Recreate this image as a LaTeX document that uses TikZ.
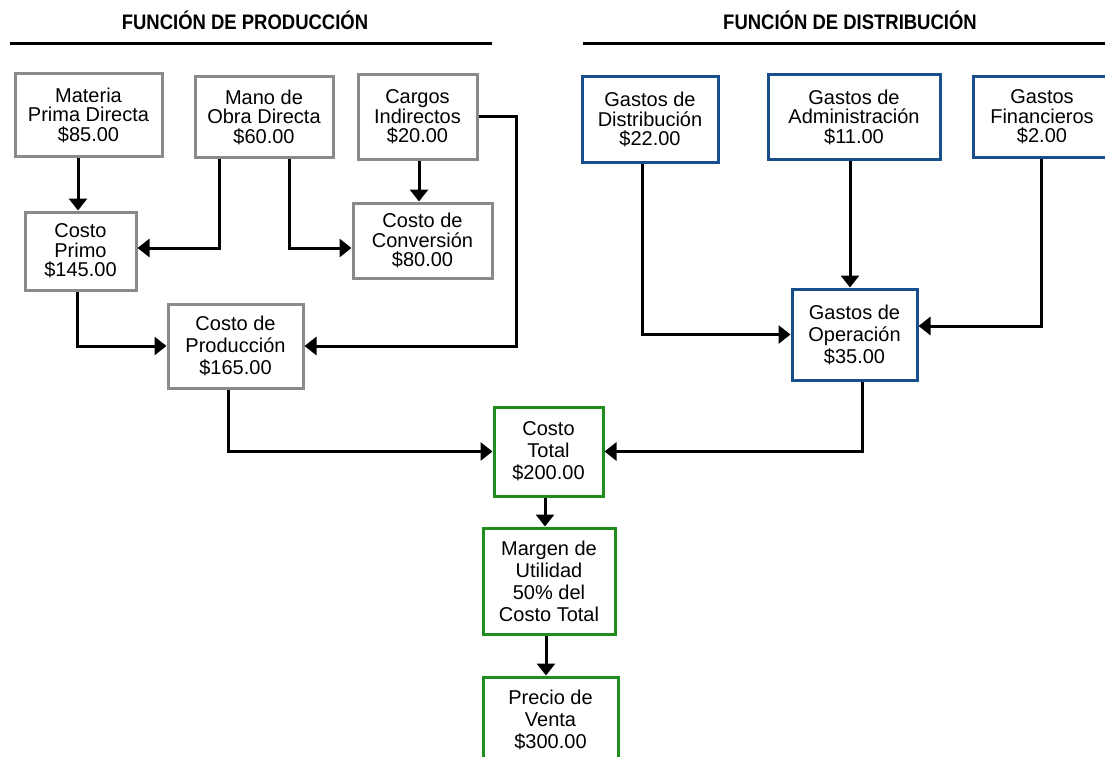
\documentclass[tikz,border=0pt]{standalone}
\usepackage{fontspec}
\setmainfont{Liberation Sans}
\newfontfamily\headfont[FakeStretch=0.88]{Liberation Sans}
\usetikzlibrary{arrows.meta}

\definecolor{boxgray}{RGB}{138,138,138}
\definecolor{boxblue}{RGB}{24,78,140}
\definecolor{boxgreen}{RGB}{30,140,30}

\tikzset{
  box/.style={draw, line width=3pt, fill=white, align=center, inner sep=0pt,
    font=\fontsize{20}{19.5}\selectfont},
  prodbox/.style={box, draw=boxgray},
  distbox/.style={box, draw=boxblue},
  totbox/.style={box, draw=boxgreen},
  loose/.style={font=\fontsize{20}{22}\selectfont},
  link/.style={line width=3pt, -{Triangle[length=12pt,width=18pt]}},
  rule/.style={line width=3pt},
  head/.style={font=\headfont\bfseries\fontsize{21}{21}\selectfont, anchor=base, inner sep=0pt}
}

\begin{document}
\begin{tikzpicture}[x=1pt, y=-1pt]
  \useasboundingbox[fill=white] (0,0) rectangle (1105,757);
  \clip (0,0) rectangle (1105,757);

  % section headings
  \node[head] (hprod) at (245,30) {FUNCIÓN DE PRODUCCIÓN};
  \node[head] (hdist) at (850,30) {FUNCIÓN DE DISTRIBUCIÓN};
  \draw[rule] (10,44) -- (492,44);
  \draw[rule] (583,44) -- (1110,44);

  % production side
  \node[prodbox, minimum width=147, minimum height=82] (mat) at (88.5,115) {Materia\\Prima Directa\\\$85.00};
  \node[prodbox, minimum width=138, minimum height=80] (mano) at (264,117) {Mano de\\Obra Directa\\\$60.00};
  \node[prodbox, minimum width=119, minimum height=84] (carg) at (417.5,117) {Cargos\\Indirectos\\\$20.00};
  \node[prodbox, minimum width=111, minimum height=78] (primo) at (80.5,251) {Costo\\Primo\\\$145.00};
  \node[prodbox, minimum width=139, minimum height=75] (conv) at (422.5,240.5) {Costo de\\Conversión\\\$80.00};
  \node[prodbox, loose, minimum width=135, minimum height=84] (prod) at (235.5,346) {Costo de\\Producción\\\$165.00};

  % distribution side
  \node[distbox, minimum width=136, minimum height=85] (dist) at (650,119.5) {Gastos de\\Distribución\\\$22.00};
  \node[distbox, minimum width=172, minimum height=84] (adm) at (854,117) {Gastos de\\Administración\\\$11.00};
  \node[distbox, minimum width=138, minimum height=80] (fin) at (1042,117) {Gastos\\Financieros\\\$2.00};
  \node[distbox, loose, minimum width=125, minimum height=91] (oper) at (854.5,334.5) {Gastos de\\Operación\\\$35.00};

  % totals
  \node[totbox, loose, minimum width=109, minimum height=89] (total) at (548.5,451.5) {Costo\\Total\\\$200.00};
  \node[totbox, loose, minimum width=132, minimum height=106] (marg) at (549,581) {Margen de\\Utilidad\\50\% del\\Costo Total};
  \node[totbox, loose, minimum width=135, minimum height=86] (prec) at (550.5,720) {Precio de\\Venta\\\$300.00};

  % routing points for the connectors
  \coordinate (xmat) at (78,0);
  \coordinate (jmano) at (219,248);
  \coordinate (jconv) at (289,248);
  \coordinate (xcarg) at (419,0);
  \coordinate (xside) at (516,0);
  \coordinate (xprimo) at (77,0);
  \coordinate (xprod) at (228,0);
  \coordinate (xdist) at (642,0);
  \coordinate (xadm) at (850,0);
  \coordinate (jfin) at (1041,326);
  \coordinate (xoper) at (862,0);
  \coordinate (xtot) at (545,0);
  \coordinate (xmarg) at (546,0);

  % connectors
  \draw[link] (mat.south -| xmat) -- (primo.north -| xmat);
  \draw[link] (mano.south -| jmano) -- (jmano) -- (primo.east |- jmano);
  \draw[link] (mano.south -| jconv) -- (jconv) -- (conv.west |- jconv);
  \draw[link] (carg.south -| xcarg) -- (conv.north -| xcarg);
  \draw[link] (carg.east) -| (xside |- prod.east) -- (prod.east);
  \draw[link] (primo.south -| xprimo) |- (prod.west);
  \draw[link] (prod.south -| xprod) |- (total.west);

  \draw[link] (dist.south -| xdist) |- (oper.west);
  \draw[link] (adm.south -| xadm) -- (oper.north -| xadm);
  \draw[link] (fin.south -| jfin) -- (jfin) -- (oper.east |- jfin);
  \draw[link] (oper.south -| xoper) |- (total.east);

  \draw[link] (total.south -| xtot) -- (marg.north -| xtot);
  \draw[link] (marg.south -| xmarg) -- (prec.north -| xmarg);
\end{tikzpicture}
\end{document}
